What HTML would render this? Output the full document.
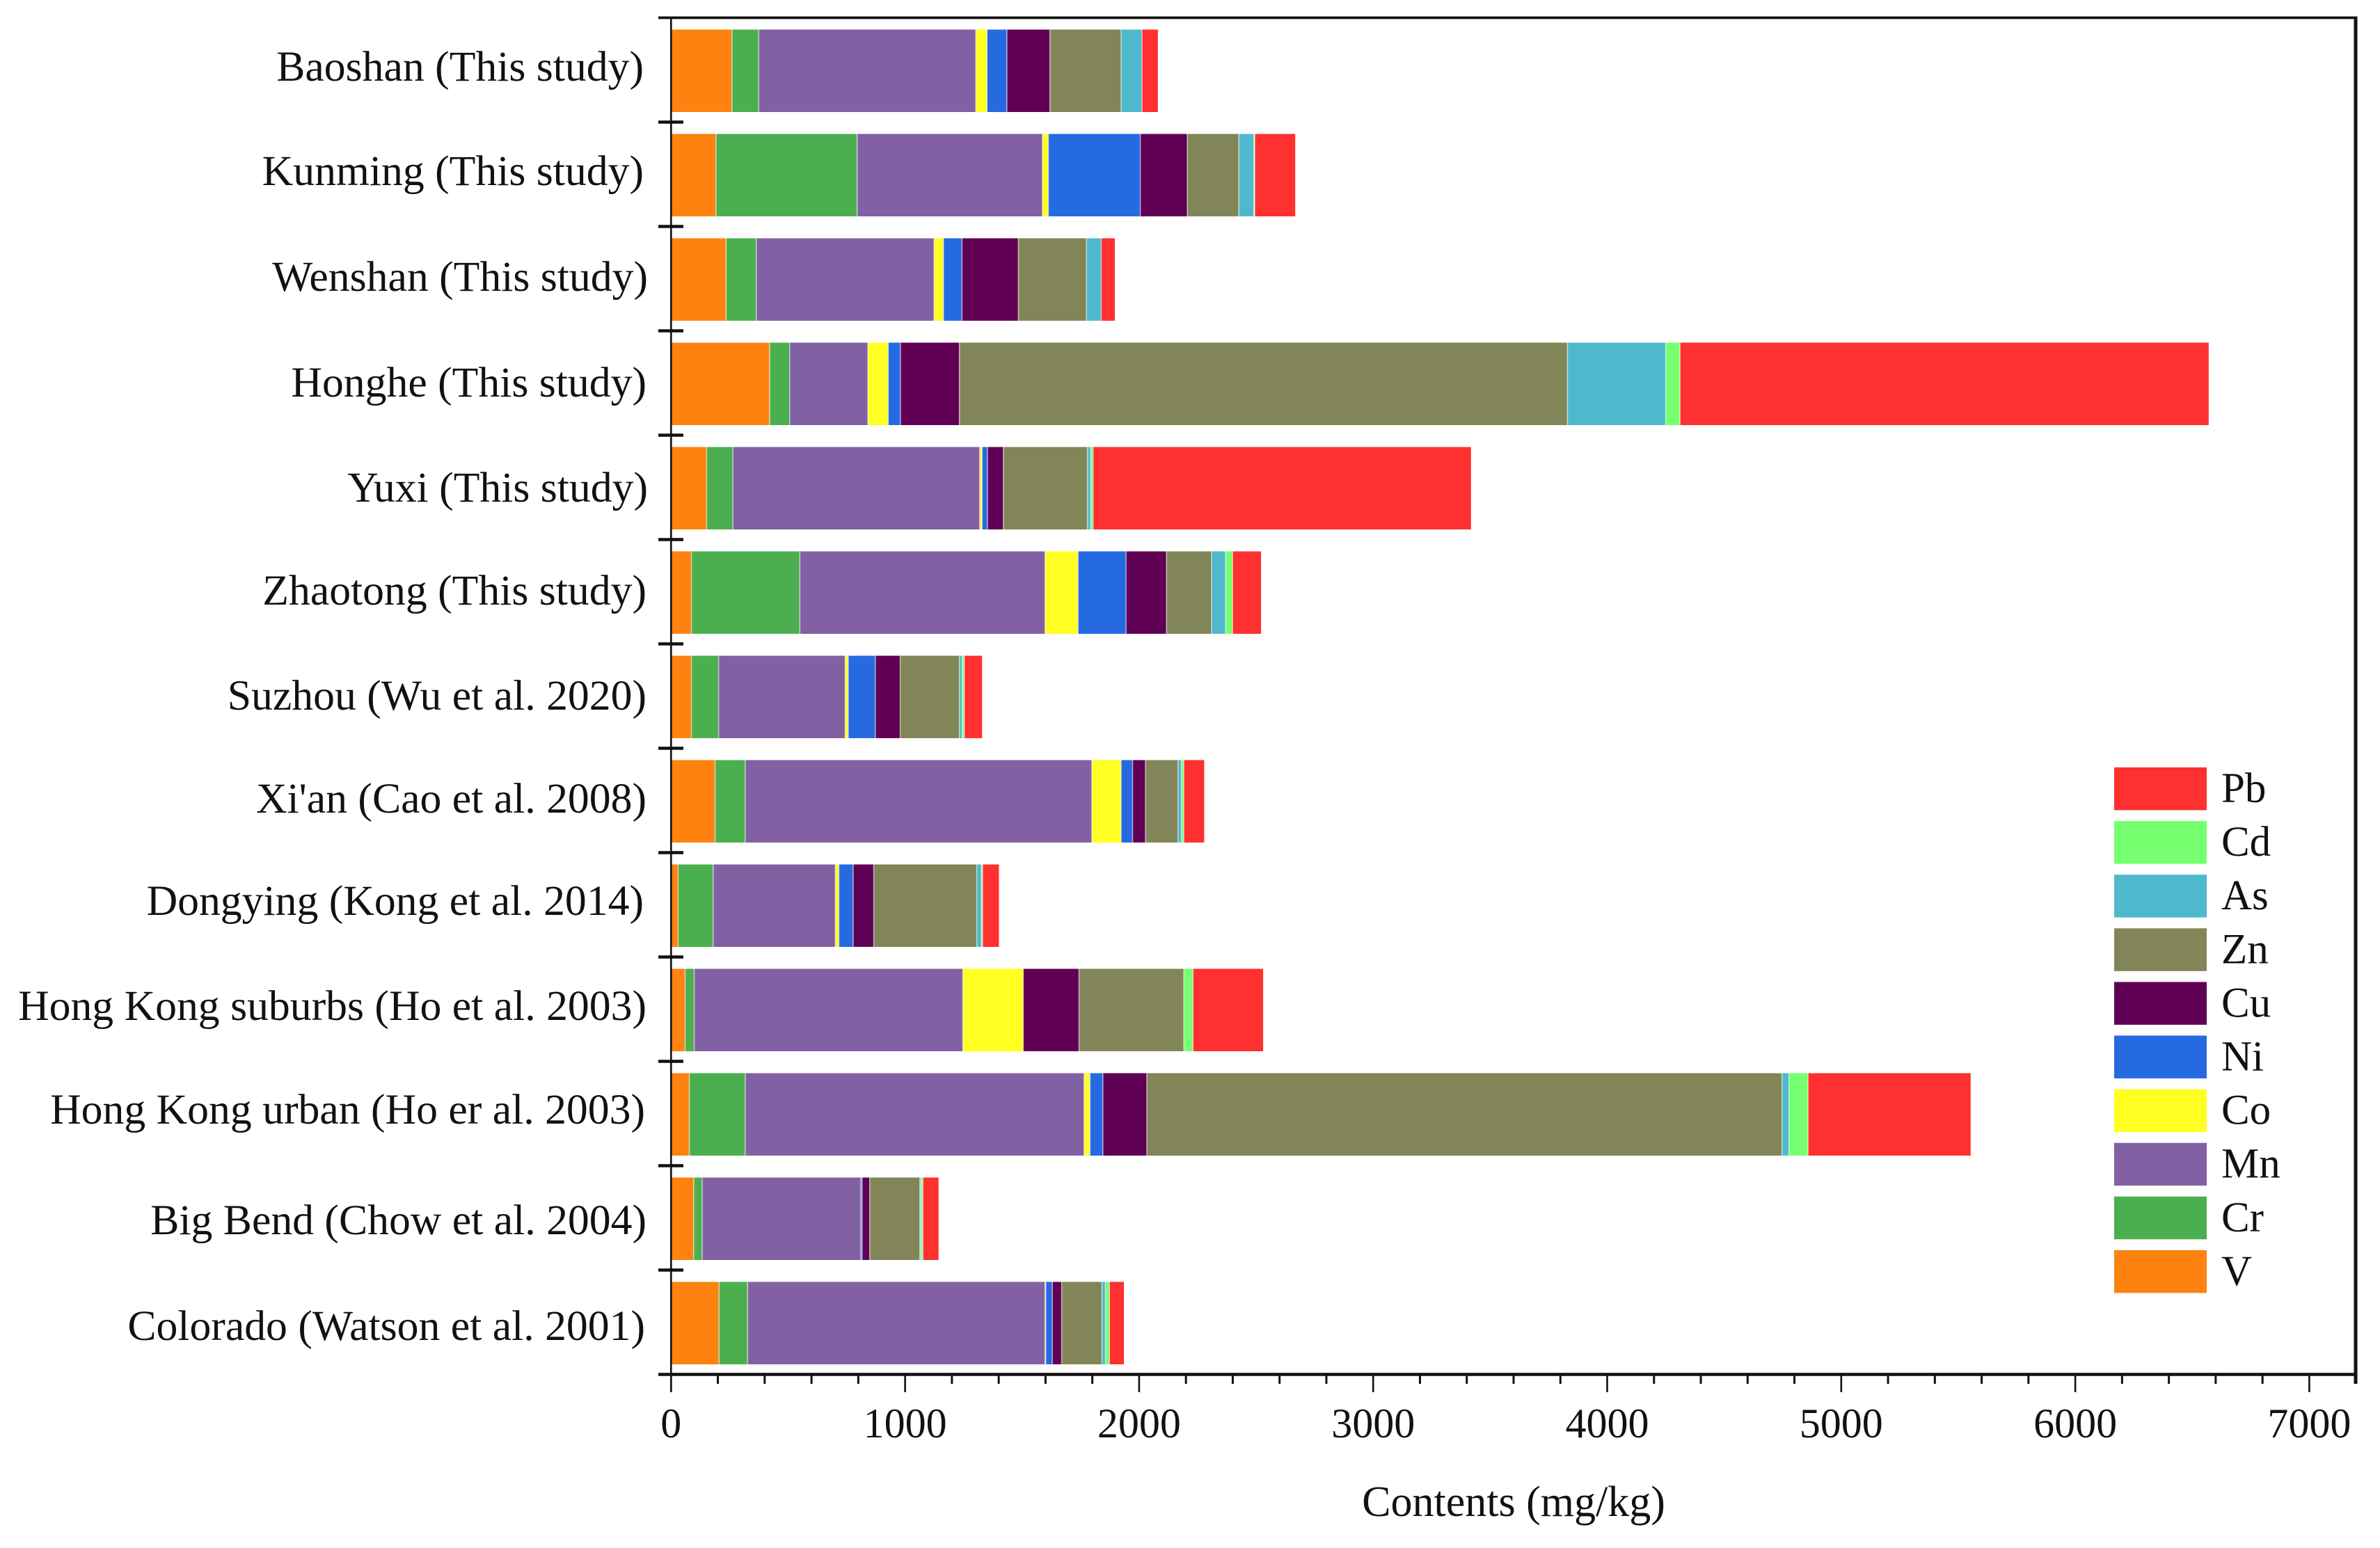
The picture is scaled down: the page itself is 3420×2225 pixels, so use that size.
<!DOCTYPE html>
<html lang="en">
<head>
<meta charset="utf-8">
<title>Contents (mg/kg) stacked bar chart</title>
<style>
html,body{margin:0;padding:0;background:#fff;}
svg{display:block;}
text{font-family:"Liberation Serif",serif;fill:#111;}
</style>
</head>
<body>
<svg id="chart" xmlns="http://www.w3.org/2000/svg" width="3420" height="2225" viewBox="0 0 3420 2225">
<rect x="0" y="0" width="3420" height="2225" fill="#ffffff"/>
</svg>
<script>
const categories = ["Baoshan (This study)","Kunming (This study)","Wenshan (This study)","Honghe (This study)","Yuxi (This study)","Zhaotong (This study)","Suzhou (Wu et al. 2020)","Xi'an (Cao et al. 2008)","Dongying (Kong et al. 2014)","Hong Kong suburbs (Ho et al. 2003)","Hong Kong urban (Ho er al. 2003)","Big Bend (Chow et al. 2004)","Colorado (Watson et al. 2001)"];
const seriesNames = ["V","Cr","Mn","Co","Ni","Cu","Zn","As","Cd","Pb"];
const V  = [260,192,235,421,152,87,87,188,30,60,78,97,205];
const Cr = [114,603,129,86,112,463,116,129,150,39,239,36,122];
const Mn = [928,792,760,334,1055,1048,541,1481,522,1148,1448,678,1271];
const Co = [48,25,40,87,10,141,13,125,15,258,25,0,3];
const Ni = [85,393,79,52,23,205,116,49,61,0,55,5,28];
const Cu = [184,201,241,252,68,173,106,55,88,238,188,33,40];
const Zn = [304,220,291,2598,359,193,253,139,440,448,2714,214,172];
const As = [89,64,63,420,14,59,12,15,20,0,30,5,15];
const Cd = [0,4,0,61,10,30,9,10,5,39,81,8,17];
const Pb = [68,173,58,2259,1615,122,76,87,70,300,695,67,62];
const xTickLabels = ["0","1000","2000","3000","4000","5000","6000","7000"];
const xAxisTitle = "Contents (mg/kg)";

const seriesValues = [V,Cr,Mn,Co,Ni,Cu,Zn,As,Cd,Pb];
const seriesColors = ["#fe8210","#4caf4f","#8161a3","#ffff22","#266ae2","#600055","#828557","#4eb9cc","#76ff6e","#ff3030"];

/* layout of the row labels, which sit slightly unevenly in the source figure */
const labelBaselineLayout = [116,266,418,570,721,869,1020,1168,1315,1466,1615,1774,1926];
const labelRightLayout = [925,925,931,929,931,929,929,929,925,929,927,929,927];

const svg = document.getElementById('chart');
const NS = 'http://www.w3.org/2000/svg';
const plot = {left:964.3, right:3385, top:25.5, bottom:1975.5};
const xMax = 7198;
const rowStep = 150;
const barHeight = 118.5;
function xScale(v){ return plot.left + v * (plot.right - plot.left) / xMax; }
function rowTop(i){ return 42.5 + i * rowStep; }
function rowBoundary(i){ return plot.top + i * rowStep; }
function make(tag, attrs){
  const el = document.createElementNS(NS, tag);
  for (const k in attrs) el.setAttribute(k, attrs[k]);
  svg.appendChild(el);
  return el;
}
function slug(s){ return s.toLowerCase().replace(/[^a-z0-9]+/g,'-').replace(/^-|-$/g,''); }

/* bars */
categories.forEach(function(cat, i){
  let cum = 0;
  seriesNames.forEach(function(name, s){
    const val = seriesValues[s][i];
    if (val <= 0) return;
    const x0 = xScale(cum), x1 = xScale(cum + val);
    const r = make('rect', {x:x0, y:rowTop(i), width:x1-x0, height:barHeight, fill:seriesColors[s]});
    
    
    cum += val;
  });
  /* pale hairlines at the segment joins */
  let c2 = 0;
  seriesNames.forEach(function(name, s){
    const val = seriesValues[s][i];
    if (val <= 0) return;
    c2 += val;
    if (s === seriesNames.length - 1) return;
    const sx = xScale(c2);
    const l = make('line', {x1:sx, x2:sx, y1:rowTop(i), y2:rowTop(i)+barHeight, stroke:'#ffffff', 'stroke-opacity':'0.55', 'stroke-width':'1.6'});
    
    
  });
  /* row label */
  const t = make('text', {x:labelRightLayout[i], y:labelBaselineLayout[i], 'font-size':'61.7', 'text-anchor':'end'});
  t.textContent = cat;
  
  
});

/* frame */
const frameTop = make('line', {x1:946, x2:plot.right+2.5, y1:plot.top, y2:plot.top, stroke:'#111', 'stroke-width':'3.8'});


const frameRight = make('line', {x1:plot.right, x2:plot.right, y1:plot.top, y2:1989, stroke:'#111', 'stroke-width':'5'});


const frameLeft = make('line', {x1:plot.left, x2:plot.left, y1:plot.top, y2:2001, stroke:'#111', 'stroke-width':'2.6'});


const frameBottom = make('line', {x1:946, x2:plot.right+2.5, y1:plot.bottom, y2:plot.bottom, stroke:'#111', 'stroke-width':'4.4'});



/* y ticks between rows */
categories.forEach(function(cat, i){
  if (i === 0) return;
  const ty = rowBoundary(i);
  const yt = make('line', {x1:946, x2:982, y1:ty, y2:ty, stroke:'#111', 'stroke-width':'4.4'});
  
  
});

/* x ticks: major at labels, minor every 200 */
for (let v = 200; v < 7198; v += 200){
  if (v % 1000 === 0) continue;
  const mx = xScale(v);
  const mt = make('line', {x1:mx, x2:mx, y1:plot.bottom, y2:1989, stroke:'#111', 'stroke-width':'3'});
  
  
}
xTickLabels.forEach(function(lbl){
  const v = Number(lbl);
  const tx = xScale(v);
  const mj = make('line', {x1:tx, x2:tx, y1:plot.bottom, y2:2001, stroke:'#111', 'stroke-width':'2.6'});
  
  
  const tl = make('text', {x:tx, y:2066, 'font-size':'60', 'text-anchor':'middle'});
  tl.textContent = lbl;
  
  
});

/* axis title */
const axisTitle = make('text', {x:2175, y:2179, 'font-size':'62', 'text-anchor':'middle'});
axisTitle.textContent = xAxisTitle;



/* legend, top entry is the last series */
seriesNames.slice().reverse().forEach(function(name, k){
  const s = seriesNames.length - 1 - k;
  const ly = 1103 + k * 77.1;
  const sw = make('rect', {x:3038, y:ly, width:133, height:61.5, fill:seriesColors[s]});
  
  
  const lt = make('text', {x:3192, y:ly + 50, 'font-size':'61'});
  lt.textContent = name;
  
  
});
</script>
</body>
</html>
